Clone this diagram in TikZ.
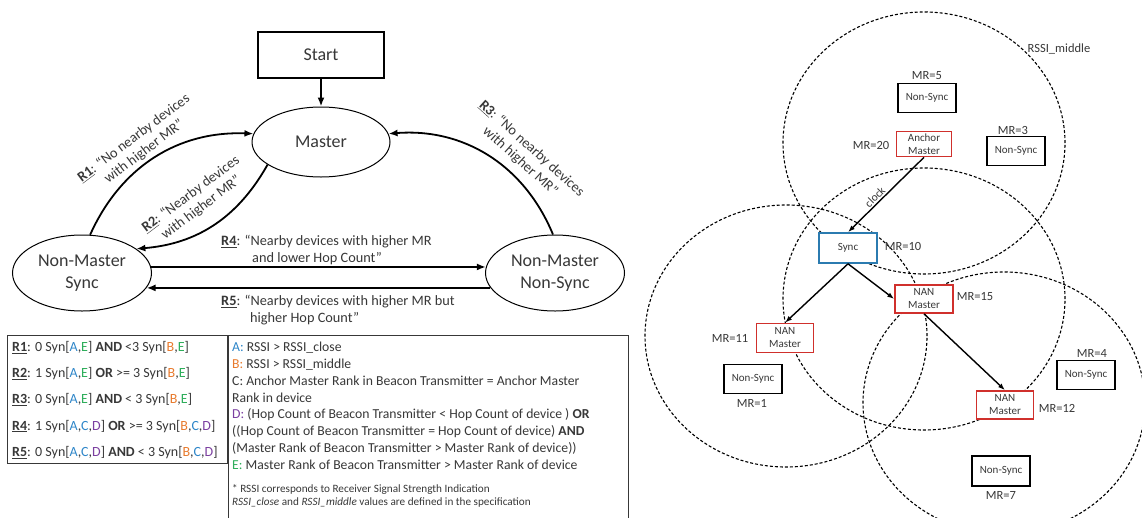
\documentclass[tikz,border=0pt]{standalone}
\usepackage{fontspec}
\setmainfont{Carlito}
\usetikzlibrary{shapes.geometric,arrows.meta}
\definecolor{txt}{HTML}{383838}
\definecolor{cA}{HTML}{2E86C9}
\definecolor{cB}{HTML}{E87B2E}
\definecolor{cD}{HTML}{7B3FA0}
\definecolor{cE}{HTML}{2EAE5B}
\definecolor{nanred}{HTML}{D0302C}
\definecolor{syncblue}{HTML}{2B7BB0}
\newcommand{\kA}{\textcolor{cA}{A}}
\newcommand{\kB}{\textcolor{cB}{B}}
\newcommand{\kC}{\textcolor{cA}{C}}
\newcommand{\kD}{\textcolor{cD}{D}}
\newcommand{\kE}{\textcolor{cE}{E}}
\newcommand{\rl}[1]{\underline{\textbf{#1}}}
\begin{document}
\begin{tikzpicture}[x=1pt,y=1pt,
  stnode/.style={ellipse, draw, line width=1pt, minimum width=139pt, minimum height=76pt, inner sep=0pt, align=center, font=\fontsize{18}{21.5}\selectfont, text=txt},
  startbox/.style={rectangle, draw, line width=1.8pt, minimum width=126pt, minimum height=46pt, font=\fontsize{18}{21.5}\selectfont, text=txt},
  flow/.style={line width=1.8pt, -{Latex[length=9pt,width=7pt]}},
  elabel/.style={font=\fontsize{14.3}{17}\selectfont, text=txt, align=center, inner sep=0pt},
  leg/.style={font=\fontsize{14}{16.8}\selectfont, text=txt, anchor=base west, inner sep=0pt},
  legb/.style={font=\fontsize{13.7}{16.8}\selectfont, text=txt, anchor=base west, inner sep=0pt},
  foot/.style={font=\fontsize{11.2}{12.5}\selectfont, text=txt, anchor=base west, inner sep=0pt},
  devbox/.style={rectangle, draw, fill=white, line width=1.6pt, minimum width=58pt, minimum height=29pt, inner sep=0pt, align=center, font=\fontsize{11}{13}\selectfont, text=txt},
  nanbox/.style={devbox, draw=nanred},
  syncbox/.style={devbox, draw=syncblue},
  mr/.style={font=\fontsize{12.5}{14}\selectfont, text=txt, inner sep=0pt},
  rangecirc/.style={draw=black, line width=1.1pt, dash pattern=on 3pt off 2pt},
  link/.style={line width=1.4pt, -{Latex[length=7pt,width=5pt]}}
]
\clip (0,0) rectangle (1142,-517);
\fill[white] (0,0) rectangle (1142,-517);

% ---------------- left: state diagram ----------------
\node[startbox] (start) at (321,-55) {Start};
\node[stnode, minimum width=138pt, minimum height=70pt] (master) at (321,-142) {Master};
\node[stnode] (sync) at (82,-273) {Non-Master\\Sync};
\node[stnode] (nsync) at (555,-273) {Non-Master\\Non-Sync};

\draw[flow] (start) -- (master);
\draw[flow] (sync.78) to[bend left=34] (master.173);
\draw[flow] (master.203) to[bend left=28] (sync.24);
\draw[flow] (nsync.93) to[bend right=36] (master.7);
\draw[flow] (sync.5) -- (nsync.175);
\draw[flow] (nsync.193) -- (sync.347);

\node[elabel, rotate=37] (l1) at (139,-145) {\rl{R1}: “No nearby devices\\with higher MR”};
\node[elabel, rotate=37] (l2) at (196,-201) {\rl{R2}: “Nearby devices\\with higher MR”};
\node[elabel, rotate=-42] (l3) at (526,-155) {\rl{R3}: “No nearby devices\\with higher MR”};
\node[elabel, align=left, anchor=north west] (l4) at (221,-235) {\rl{R4}: “Nearby devices with higher MR\\\hspace*{31pt}and lower Hop Count”};
\node[elabel, align=left, anchor=north west] (l5) at (221,-295) {\rl{R5}: “Nearby devices with higher MR but\\\hspace*{29pt}higher Hop Count”};

% ---------------- legend 1 ----------------
\draw[line width=1pt, draw=txt] (7,-335) rectangle (227,-463);
\node[leg] (r1) at (12,-351.5) {\rl{R1}: 0 Syn[\kA,\kE] \textbf{AND} <3 Syn[\kB,\kE]};
\node[leg] (r2) at (12,-377.5) {\rl{R2}: 1 Syn[\kA,\kE] \textbf{OR} >= 3 Syn[\kB,\kE]};
\node[leg] (r3) at (12,-403.5) {\rl{R3}: 0 Syn[\kA,\kE] \textbf{AND} < 3 Syn[\kB,\kE]};
\node[leg] (r4) at (12,-430) {\rl{R4}: 1 Syn[\kA,\kC,\kD] \textbf{OR} >= 3 Syn[\kB,\kC,\kD]};
\node[leg] (r5) at (12,-456.5) {\rl{R5}: 0 Syn[\kA,\kC,\kD] \textbf{AND} < 3 Syn[\kB,\kC,\kD]};

% ---------------- legend 2 ----------------
\draw[line width=1pt, draw=txt] (228,-530) -- (228,-335) -- (628,-335) -- (628,-530);
\node[legb] (da) at (232,-351.5) {\textcolor{cA}{A:} RSSI > RSSI\_close};
\node[legb] (db) at (232,-368.3) {\textcolor{cB}{B:} RSSI > RSSI\_middle};
\node[legb] (dc) at (232,-385.2) {C: Anchor Master Rank in Beacon Transmitter = Anchor Master};
\node[legb] (dc2) at (232,-402) {Rank in device};
\node[legb] (dd) at (232,-418.9) {\textcolor{cD}{D:} (Hop Count of Beacon Transmitter < Hop Count of device ) \textbf{OR}};
\node[legb] (dd2) at (232,-435.7) {((Hop Count of Beacon Transmitter = Hop Count of device) \textbf{AND}};
\node[legb] (dd3) at (232,-452.6) {(Master Rank of Beacon Transmitter > Master Rank of device))};
\node[legb] (de) at (232,-469.4) {\textcolor{cE}{E:} Master Rank of Beacon Transmitter > Master Rank of device};
\node[foot] (f1) at (232,-492) {* RSSI corresponds to Receiver Signal Strength Indication};
\node[foot] (f2) at (232,-505) {\textit{RSSI\_close} and \textit{RSSI\_middle} values are defined in the specification};

% ---------------- right: network ----------------
\draw[rangecirc] (924,-143) ellipse [x radius=141pt, y radius=131pt];
\draw[rangecirc] (924,-299) ellipse [x radius=141pt, y radius=131pt];
\draw[rangecirc] (786,-336) ellipse [x radius=141pt, y radius=131pt];
\draw[rangecirc] (1004,-403) ellipse [x radius=141pt, y radius=131pt];
\node[mr] (rssim) at (1059,-49) {RSSI\_middle};

\node[devbox] (ns5) at (927,-98) {Non-Sync};
\node[mr] (mr5) at (927,-76) {MR=5};
\node[nanbox, minimum width=55pt, minimum height=25pt] (am) at (924,-144) {Anchor\\Master};
\node[mr] (mr20) at (871,-145) {MR=20};
\node[devbox] (ns3) at (1016,-151) {Non-Sync};
\node[mr] (mr3) at (1013,-130) {MR=3};
\node[syncbox, minimum height=30pt] (syncb) at (848,-248) {Sync};
\node[mr] (mr10) at (903,-246) {MR=10};
\node[nanbox, minimum width=57pt] (nan11) at (785,-338) {NAN\\Master};
\node[mr] (mr11) at (730,-338) {MR=11};
\node[devbox] (ns1) at (753,-379) {Non-Sync};
\node[mr] (mr1) at (752,-403) {MR=1};
\node[nanbox, minimum height=28pt] (nan15) at (924,-299) {NAN\\Master};
\node[mr] (mr15) at (975,-297) {MR=15};
\node[nanbox, minimum width=57pt, minimum height=28pt] (nan12) at (1005,-405) {NAN\\Master};
\node[mr] (mr12) at (1057,-408) {MR=12};
\node[devbox] (ns4) at (1086,-375) {Non-Sync};
\node[mr] (mr4) at (1092,-353) {MR=4};
\node[devbox, minimum height=30pt] (ns7) at (1001,-471) {Non-Sync};
\node[mr] (mr7) at (1001,-495) {MR=7};

\draw[link] (am.south) -- (syncb.north);
\node[mr, font=\fontsize{11.5}{13}\selectfont, rotate=45] (clk) at (875,-197) {clock};
\draw[link] (syncb.south) -- (nan11.north);
\draw[link] (syncb.south) -- (nan15.west);
\draw[link] (nan15.south) -- (nan12.north);
\end{tikzpicture}
\end{document}
